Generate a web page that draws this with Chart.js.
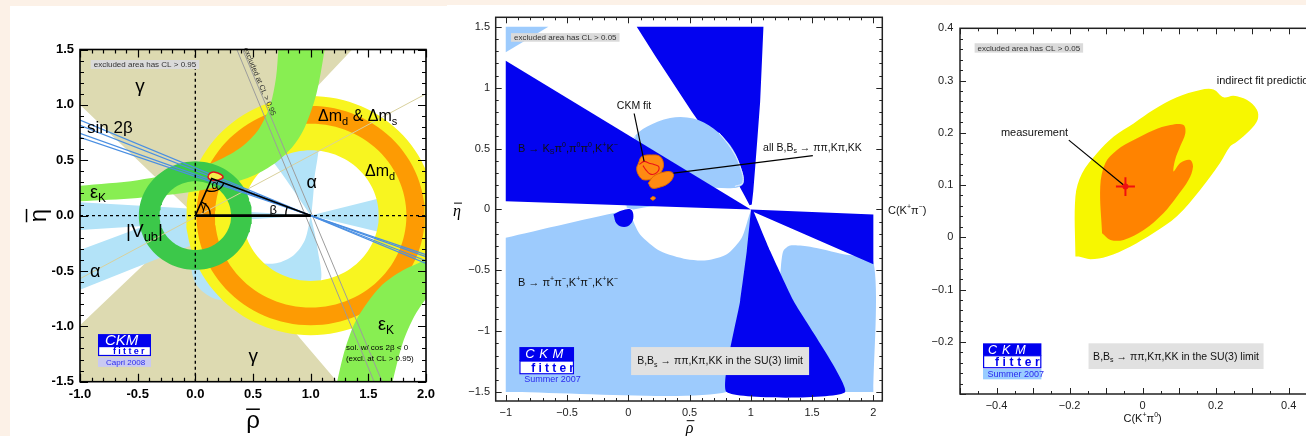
<!DOCTYPE html>
<html lang="en">
<head>
<meta charset="utf-8">
<title>CKM fits</title>
<script src="https://cdn.jsdelivr.net/npm/chart.js@4.4.1/dist/chart.umd.min.js"></script>
<style>
  html, body { margin: 0; padding: 0; }
  body { width: 1306px; height: 436px; overflow: hidden; position: relative; background: #fcf1e7; }
  .sheet { position: absolute; background: #fff; }
  canvas { position: absolute; }
</style>
</head>
<body>
<div class="sheet" style="left:10px;top:6px;width:440px;height:430px"></div>
<div class="sheet" style="left:447px;top:5px;width:859px;height:431px"></div>
<canvas id="fitA" width="440" height="430" style="left:10px;top:6px"></canvas>
<canvas id="fitB" width="440" height="431" style="left:447px;top:5px"></canvas>
<canvas id="fitC" width="463" height="431" style="left:887px;top:5px"></canvas>
<script>
// ============ Panel A: global fit in the (rho-bar, eta-bar) plane ============
const rhoTicksA = [-1.0, -0.5, 0.0, 0.5, 1.0, 1.5, 2.0];
const etaTicksA = [-1.5, -1.0, -0.5, 0.0, 0.5, 1.0, 1.5];
// gamma: excluded double cone (tan)
const gammaUpperA = [[0, 0], [1.36, 1.5], [-1, 1.5], [-1, 1.0], [0, 0]];
const gammaLowerA = [[0, 0], [-1, -0.99], [-1, -1.5], [1.23, -1.5], [0, 0]];
// alpha: allowed pieces (light blue)
const alphaLeftA = [[1, 0], [-1, 0.12], [-1, -0.13], [1, 0]];
const alphaRightA = [[1, 0], [2, 0.26], [2, -0.25], [1, 0]];
const alphaBandA = [[-1, -0.31], [-0.15, 0.02], [0.25, -0.15], [-1, -0.67]];
const alphaUpperA = [[1, 0], [0.85, 0.23], [0.7, 0.45], [0.5, 0.72], [1.04, 0.72], [1.03, 0.3], [1.01, 0.05], [1, 0]];
const alphaLowerA = [[1, 0], [0.95, -0.22], [0.85, -0.36], [0.7, -0.43], [0.5, -0.42], [0.3, -0.33], [0.1, -0.3],
  [-0.03, -0.45], [0.02, -0.64], [0.2, -0.76], [0.6, -0.76], [1.07, -0.62], [1.06, -0.3], [1, 0]];
// Delta m_d (yellow) and Delta m_d & Delta m_s (orange): rings around (1,0)
const dmCentreA = [1, 0];
const dmdBandA = [0.59, 1.08];
const dmsBandA = [0.83, 0.99];
// |Vub|: ring around the origin
const vubCentreA = [0, 0];
const vubBandA = [0.31, 0.49];
// epsilon_K hyperbola bands
const epsUpperA = [[-1, 0.27], [-0.5, 0.32], [0, 0.42], [0.2, 0.5], [0.4, 0.62], [0.55, 0.78], [0.65, 1.0], [0.7, 1.25], [0.72, 1.5], [0.73, 1.63],
  [1.14, 1.65], [1.12, 1.49], [1.05, 1.1], [0.95, 0.8], [0.85, 0.63], [0.7, 0.48], [0.5, 0.36], [0.3, 0.29], [0, 0.22], [-0.5, 0.16], [-1, 0.13]];
const epsLowerA = [[1.2, -1.68], [1.23, -1.5], [1.3, -1.2], [1.4, -0.933], [1.6, -0.646], [1.8, -0.494], [2.0, -0.4], [2.05, -0.38],
  [2.05, -0.7], [2.0, -0.75], [1.9, -0.906], [1.8, -1.145], [1.71, -1.5], [1.68, -1.67]];
// sin 2beta: eta-bar where each line through (1,0) meets rho-bar = -1
const sin2betaA = [0.862, 0.816, 0.742, 0.706];
const grayLinesA = [[[0.36, 1.5], [1.55, -1.5]], [[0.41, 1.5], [1.62, -1.5]]];
const beigeLineA = [[-1, -0.57], [2, 1.1]];
const apexA = [0.142, 0.336];
const apexContourA = [[0.11, 0.36], [0.13, 0.385], [0.17, 0.392], [0.22, 0.372], [0.24, 0.345], [0.2, 0.322], [0.15, 0.318], [0.115, 0.335], [0.11, 0.36]];

// ============ Panel B: B -> pi pi, K pi, KK in the SU(3) limit ============
const rhoTicksB = [-1, -0.5, 0, 0.5, 1, 1.5, 2];
const etaTicksB = [-1.5, -1, -0.5, 0, 0.5, 1, 1.5];
const lightCornerB = [[-1, 1.5], [-0.652, 1.5], [-1, 1.29]];
const lightLowLeftB = [[-1, -0.232], [-0.013, -0.008], [0.015, -0.042], [0.096, -0.205], [0.26, -0.341], [0.477, -0.409],
  [0.641, -0.417], [0.804, -0.368], [0.926, -0.232], [0.989, -0.042], [1.0, -0.02], [0.804, -1.5], [-1, -1.5]];
const lightLowRightB = [[2, -1.5], [2, -0.428], [1.756, -0.368], [1.484, -0.306], [1.321, -0.295], [1.266, -0.34],
  [1.245, -0.477], [1.226, -0.749], [1.212, -1.5]];
const lightDiskB = [[-0.013, 0.013], [-0.04, 0.176], [-0.026, 0.39], [0.042, 0.584], [0.151, 0.679], [0.341, 0.752],
  [0.532, 0.747], [0.695, 0.665], [0.831, 0.529], [0.913, 0.366], [0.94, 0.216], [0.858, 0.176], [0.532, 0.176], [0.369, 0.067], [0.042, 0.0]];
const diskEdgeLeftB = [[0.06, 0.6], [0.0, 0.48], [-0.035, 0.3], [-0.04, 0.15], [-0.02, 0.03], [0.02, -0.03]];
const diskEdgeRightB = [[0.74, 0.63], [0.84, 0.5], [0.91, 0.36], [0.935, 0.22], [0.87, 0.19]];
const darkUpLeftB = [[-1, 1.222], [1, 0], [-1, 0.067]];
const darkUpRightB = [[0.069, 1.5], [1.103, 1.5], [1.09, 1.2], [1.076, 0.882], [1.055, 0.6], [1.035, 0.338], [1.02, 0.15], [1.008, 0.04],
  [0.99, 0.035], [0.95, 0.11], [0.88, 0.24], [0.78, 0.41], [0.66, 0.6], [0.52, 0.8], [0.37, 1.03], [0.22, 1.26], [0.069, 1.5]];
const darkLowB = [[1.0, -0.01], [0.967, -0.341], [0.913, -0.749], [0.804, -1.5], [1.77, -1.5], [1.348, -0.749], [1.158, -0.341], [1.02, -0.01]];
const darkRightB = [[1.0, 0.0], [2.0, -0.042], [2.0, -0.45], [1.0, -0.01]];
const darkLoopB = [[-0.121, -0.042], [-0.094, -0.118], [-0.034, -0.145], [0.02, -0.118], [0.042, -0.055], [0.02, -0.001], [-0.053, -0.009], [-0.121, -0.042]];
const fitBlobUpB = [[0.083, 0.38], [0.11, 0.434], [0.192, 0.4475], [0.26, 0.434], [0.287, 0.366], [0.26, 0.298], [0.205, 0.257], [0.124, 0.244], [0.083, 0.284], [0.069, 0.339], [0.083, 0.38]];
const fitBlobLowB = [[0.164, 0.216], [0.205, 0.271], [0.287, 0.306], [0.355, 0.306], [0.368, 0.271], [0.328, 0.216], [0.26, 0.184], [0.192, 0.176], [0.164, 0.216]];
const fitBlobDotB = [[0.18, 0.09], [0.2, 0.106], [0.222, 0.094], [0.2, 0.076], [0.18, 0.09]];
const fitRedB = [[0.09, 0.37], [0.13, 0.395], [0.17, 0.38], [0.21, 0.37], [0.25, 0.35], [0.23, 0.3], [0.18, 0.29], [0.14, 0.33], [0.12, 0.36]];
const ckmLineB = [[0.048, 0.788], [0.129, 0.394]];
const allLineB = [[1.506, 0.442], [0.369, 0.298]];

// ============ Panel C: C(K+pi0) vs C(K+pi-) ============
const cTicksX = [-0.4, -0.2, 0, 0.2, 0.4];
const cTicksY = [-0.2, -0.1, 0, 0.1, 0.2, 0.3, 0.4];
const predYellowC = [[-0.184, -0.037], [-0.184, 0.078], [-0.166, 0.122], [-0.125, 0.161], [-0.079, 0.193], [-0.0245, 0.218],
  [0.03, 0.244], [0.094, 0.268], [0.158, 0.282], [0.194, 0.283], [0.222, 0.268], [0.249, 0.271], [0.285, 0.263],
  [0.313, 0.244], [0.315, 0.225], [0.294, 0.205], [0.258, 0.183], [0.24, 0.174], [0.212, 0.142], [0.158, 0.091],
  [0.094, 0.04], [0.03, 0.008], [-0.034, -0.018], [-0.097, -0.037], [-0.143, -0.042], [-0.175, -0.037], [-0.184, -0.037]];
const predOrangeC = [[-0.111, 0.0076], [-0.116, 0.097], [-0.102, 0.142], [-0.07, 0.167], [-0.0245, 0.186], [0.03, 0.205],
  [0.076, 0.215], [0.112, 0.215], [0.117, 0.199], [0.103, 0.174], [0.089, 0.148], [0.085, 0.126], [0.103, 0.142],
  [0.13, 0.148], [0.138, 0.135], [0.126, 0.11], [0.094, 0.078], [0.057, 0.046], [0.003, 0.014], [-0.052, -0.005],
  [-0.088, -0.005], [-0.111, 0.0076]];
const measuredC = [-0.047, 0.097];
const measLineC = [[-0.202, 0.186], [-0.052, 0.1]];

// ---------------------------------------------------------------------
const SANS = '"Liberation Sans", Arial, Helvetica, sans-serif';
const SERIF = '"Liberation Serif", "Times New Roman", serif';

const pts = a => a.map(p => ({ x: p[0], y: p[1] }));
function region(a, color, extra) {
  return Object.assign({ data: pts(a), showLine: true, fill: 'shape', backgroundColor: color, borderColor: color,
    borderWidth: 0, pointRadius: 0, tension: 0 }, extra || {});
}
function stroke(a, color, width, extra) {
  return Object.assign({ data: pts(a), showLine: true, fill: false, borderColor: color, borderWidth: width,
    pointRadius: 0, tension: 0 }, extra || {});
}
// closed annulus outline: outer circle one way, inner circle back the other way
function ring(c, band) {
  const out = [], n = 120;
  for (let i = 0; i <= n; i++) { const t = 2 * Math.PI * i / n; out.push([c[0] + band[1] * Math.cos(t), c[1] + band[1] * Math.sin(t)]); }
  for (let i = n; i >= 0; i--) { const t = 2 * Math.PI * i / n; out.push([c[0] + band[0] * Math.cos(t), c[1] + band[0] * Math.sin(t)]); }
  return out;
}

function axis(min, max, ticks, fmt, font, color, pad, fit) {
  return {
    type: 'linear', min, max,
    grid: { display: false, drawTicks: false }, border: { display: false },
    afterBuildTicks: s => { s.ticks = ticks.map(v => ({ value: v })); },
    ticks: { callback: v => fmt(v), font, color, padding: pad, autoSkip: false, maxRotation: 0, minRotation: 0 },
    afterFit: fit
  };
}

function rich(ctx, str, x, y, size, o) {
  o = o || {};
  const fam = o.family || SANS, wt = o.weight || '', st = o.style || '';
  const parts = []; const re = /([_^])\{([^}]*)\}/g; let last = 0, m;
  while ((m = re.exec(str))) {
    if (m.index > last) parts.push({ t: str.slice(last, m.index), k: '' });
    parts.push({ t: m[2], k: m[1] }); last = re.lastIndex;
  }
  if (last < str.length) parts.push({ t: str.slice(last), k: '' });
  const fontFor = k => `${st} ${wt} ${k ? Math.round(size * 0.68) : size}px ${fam}`;
  let w = 0;
  for (const p of parts) { ctx.font = fontFor(p.k); p.w = ctx.measureText(p.t).width; w += p.w; }
  let cx = o.align === 'center' ? x - w / 2 : o.align === 'right' ? x - w : x;
  ctx.fillStyle = o.color || '#000'; ctx.textBaseline = 'middle'; ctx.textAlign = 'left';
  for (const p of parts) {
    ctx.font = fontFor(p.k);
    const dy = p.k === '_' ? size * 0.3 : p.k === '^' ? -size * 0.33 : 0;
    ctx.fillText(p.t, cx, y + dy); cx += p.w;
  }
  return w;
}

function innerTicks(chart, o) {
  const { ctx } = chart, a = chart.chartArea, sx = chart.scales.x, sy = chart.scales.y;
  ctx.save(); ctx.strokeStyle = o.color; ctx.lineWidth = o.lw; ctx.beginPath();
  const run = (spec, fn) => {
    const n = Math.round((spec[1] - spec[0]) / spec[2]);
    for (let i = 0; i <= n; i++) { const v = spec[0] + i * spec[2]; const r = v / spec[3]; fn(v, Math.abs(r - Math.round(r)) < 1e-6); }
  };
  run(o.x, (v, big) => {
    const p = Math.round(sx.getPixelForValue(v)) + 0.5, L = big ? o.major : o.minor;
    ctx.moveTo(p, a.bottom); ctx.lineTo(p, a.bottom - L);
    ctx.moveTo(p, a.top); ctx.lineTo(p, a.top + L);
  });
  run(o.y, (v, big) => {
    const p = Math.round(sy.getPixelForValue(v)) + 0.5, L = big ? o.major : o.minor;
    ctx.moveTo(a.left, p); ctx.lineTo(a.left + L, p);
    ctx.moveTo(a.right, p); ctx.lineTo(a.right - L, p);
  });
  ctx.stroke();
  ctx.strokeStyle = o.frameColor || o.color; ctx.lineWidth = o.frame;
  ctx.strokeRect(a.left, a.top, a.right - a.left, a.bottom - a.top);
  ctx.restore();
}

function spaced(ctx, s, x, y, gap) { for (const ch of s) { ctx.fillText(ch, x, y); x += ctx.measureText(ch).width + gap; } }

function ckmLogo(ctx, x, y, L) {
  ctx.save();
  ctx.textBaseline = 'middle'; ctx.textAlign = 'left';
  ctx.fillStyle = '#0000ee'; ctx.fillRect(x, y, L.w, L.h1);
  ctx.fillStyle = '#fff'; ctx.font = `italic ${L.ckmSize}px ${SANS}`;
  spaced(ctx, 'CKM', x + L.ckmX, y + L.h1 / 2 + 0.5, L.ckmGap);
  ctx.fillStyle = '#fff'; ctx.fillRect(x, y + L.h1, L.w, L.h2);
  ctx.strokeStyle = '#0000ee'; ctx.lineWidth = 1.2;
  ctx.strokeRect(x + 0.6, y + L.h1, L.w - 1.2, L.h2 - 0.6);
  ctx.fillStyle = '#0000ee'; ctx.font = `bold ${L.fitSize}px ${SANS}`;
  spaced(ctx, 'fitter', x + L.fitX, y + L.h1 + L.h2 / 2 + 0.5, L.fitGap);
  const fy = y + L.h1 + L.h2 + L.footGap;
  if (L.footBg) { ctx.fillStyle = L.footBg; ctx.fillRect(x, fy, L.w, L.footH); }
  ctx.fillStyle = '#2a2aee'; ctx.font = `${L.footSize}px ${SANS}`;
  ctx.fillText(L.foot, x + L.footX, fy + L.footH / 2 + 0.5);
  ctx.restore();
}

function noteBox(ctx, x, y, text, size, h) {
  ctx.save();
  ctx.font = `${size}px ${SANS}`;
  const w = ctx.measureText(text).width + 6;
  ctx.fillStyle = '#dadada'; ctx.fillRect(x, y, w, h);
  ctx.fillStyle = '#333'; ctx.textBaseline = 'middle'; ctx.textAlign = 'left';
  ctx.fillText(text, x + 3, y + h / 2 + 0.5);
  ctx.restore();
}

function limitBox(ctx, x, y, w, h, text, size) {
  ctx.save();
  ctx.fillStyle = '#e1e1e1'; ctx.fillRect(x, y, w, h);
  rich(ctx, text, x + w / 2, y + h / 2 + 0.5, size, { align: 'center', color: '#111' });
  ctx.restore();
}

function barred(ctx, ch, x, y, size, font, rot, barDx) {
  ctx.save();
  ctx.translate(x, y); ctx.rotate(rot || 0);
  ctx.font = `${font.replace('SIZE', size)}`; ctx.fillStyle = '#000'; ctx.textAlign = 'center'; ctx.textBaseline = 'middle';
  ctx.fillText(ch, 0, 0);
  const w = ctx.measureText(ch).width;
  ctx.strokeStyle = '#000'; ctx.lineWidth = Math.max(1, size / 16);
  ctx.beginPath(); ctx.moveTo(-w / 2 + (barDx || 0), -size * 0.52); ctx.lineTo(w / 2 + (barDx || 0), -size * 0.52); ctx.stroke();
  ctx.restore();
}

function buildChart(id, layers, opts, deco) {
  const cv = document.getElementById(id);
  return new Chart(cv.getContext('2d'), {
    type: 'scatter',
    data: { datasets: layers.slice().reverse() },   // first layer ends up at the bottom
    options: Object.assign({
      responsive: false, animation: false, events: [],
      plugins: { legend: { display: false }, tooltip: { enabled: false } }
    }, opts),
    plugins: [{ id: 'deco_' + id, afterDraw: deco }]
  });
}

// ------------------------------ Panel A ------------------------------
const TAN = '#dddab1', LBLUE = '#b3e3f8', YEL = '#f8f520', ORG = '#fd9b03', LGRN = '#88ee52', DGRN = '#3cc84a';
const fmtA = v => v.toFixed(1);
const fontA = { family: SANS, size: 13, weight: 'bold' };

const layersA = [
  region(gammaUpperA, TAN), region(gammaLowerA, TAN),
  region(alphaLeftA, LBLUE), region(alphaRightA, LBLUE), region(alphaBandA, LBLUE),
  region(alphaUpperA, LBLUE, { tension: 0.3 }), region(alphaLowerA, LBLUE, { tension: 0.3 }),
  region(ring(dmCentreA, dmdBandA), YEL), region(ring(dmCentreA, dmsBandA), ORG),
  region(epsUpperA, LGRN, { tension: 0.3 }), region(epsLowerA, LGRN, { tension: 0.3 }),
  region(ring(vubCentreA, vubBandA), DGRN),
  stroke(beigeLineA, '#d8d09c', 1),
  ...grayLinesA.map(l => stroke(l, '#9c9c9c', 1)),
  ...sin2betaA.map(v => stroke([[-1, v], [2, -v / 2]], '#4a8fe2', 1.2)),
  stroke([[-1, 0], [2, 0]], '#000', 1.4, { borderDash: [3, 3] }),
  stroke([[0, -1.5], [0, 1.5]], '#000', 1.4, { borderDash: [3, 3] }),
  region(apexContourA, '#f5ee48', { borderColor: '#e0141a', borderWidth: 1.5, tension: 0.4 }),
  stroke([[0, 0], apexA, [1, 0]], '#000', 1.6),
  stroke([[0, 0], [1, 0]], '#000', 2.6)
];

const labelsA = [
  { t: 'γ', x: -0.48, y: 1.16, s: 19, al: 'center' },
  { t: 'γ', x: 0.503, y: -1.278, s: 19, al: 'center' },
  { t: 'sin 2β', x: -0.939, y: 0.79, s: 17 },
  { t: 'ε_{K}', x: -0.913, y: 0.203, s: 18 },
  { t: '|V_{ub}|', x: -0.601, y: -0.146, s: 19 },
  { t: 'α', x: -0.913, y: -0.508, s: 18 },
  { t: 'α', x: 1.009, y: 0.291, s: 18, al: 'center' },
  { t: 'Δm_{d} & Δm_{s}', x: 1.064, y: 0.893, s: 16 },
  { t: 'Δm_{d}', x: 1.471, y: 0.396, s: 16 },
  { t: 'ε_{K}', x: 1.584, y: -0.989, s: 18 },
  { t: 'α', x: 0.171, y: 0.266, s: 12, al: 'center' },
  { t: 'γ', x: 0.071, y: 0.077, s: 12, al: 'center' },
  { t: 'β', x: 0.676, y: 0.05, s: 13, al: 'center' },
  { t: 'sol. w/ cos 2β < 0', x: 1.306, y: -1.197, s: 8 },
  { t: '(excl. at CL > 0.95)', x: 1.306, y: -1.296, s: 8 }
];

buildChart('fitA', layersA, {
  layout: { padding: { left: 0, right: 24, top: 43.5, bottom: 0 }, autoPadding: false },
  scales: {
    x: axis(-1, 2, rhoTicksA, fmtA, fontA, '#000', 4.8, s => { s.height = 54.3; }),
    y: axis(-1.5, 1.5, etaTicksA, fmtA, fontA, '#000', 6, s => { s.width = 70; })
  }
}, chart => {
  const ctx = chart.ctx, sx = chart.scales.x, sy = chart.scales.y, a = chart.chartArea;
  const P = (x, y) => [sx.getPixelForValue(x), sy.getPixelForValue(y)];
  // angle arcs of the unitarity triangle
  const O = P(0, 0), A = P(apexA[0], apexA[1]), B = P(1, 0);
  const ang = (p, q) => Math.atan2(q[1] - p[1], q[0] - p[0]);
  ctx.save(); ctx.strokeStyle = '#000'; ctx.lineWidth = 1.3;
  ctx.beginPath(); ctx.arc(O[0], O[1], 15, ang(O, A), 0); ctx.stroke();
  ctx.beginPath(); ctx.arc(B[0], B[1], 25, Math.PI, ang(B, A) + 2 * Math.PI); ctx.stroke();
  ctx.beginPath(); ctx.arc(A[0], A[1], 13, ang(A, B), ang(A, O)); ctx.stroke();
  ctx.restore();
  for (const l of labelsA) { const p = P(l.x, l.y); rich(ctx, l.t, p[0], p[1], l.s, { align: l.al }); }
  // rotated note along the grey lines
  const g1 = P(grayLinesA[1][0][0], grayLinesA[1][0][1]), g2 = P(grayLinesA[1][1][0], grayLinesA[1][1][1]);
  const gp = P(0.555, 1.21);
  ctx.save(); ctx.translate(gp[0], gp[1]); ctx.rotate(Math.atan2(g2[1] - g1[1], g2[0] - g1[0]));
  ctx.font = `7.5px ${SANS}`; ctx.fillStyle = '#333'; ctx.textAlign = 'center'; ctx.textBaseline = 'middle';
  ctx.fillText('excluded at CL > 0.95', 0, 0); ctx.restore();
  const nb = P(-0.907, 1.405); noteBox(ctx, nb[0], nb[1], 'excluded area has CL > 0.95', 8, 9);
  const lg = P(-0.844, -1.07);
  ckmLogo(ctx, lg[0], lg[1], { w: 53, h1: 12.5, h2: 9.5, ckmSize: 15, ckmX: 7, ckmGap: 0, fitSize: 9, fitX: 15, fitGap: 2.3,
    footGap: 1.5, footH: 9.3, footBg: '#c9c9f2', foot: 'Capri 2008', footSize: 8, footX: 8 });
  innerTicks(chart, { x: [-1, 2, 0.1, 0.5], y: [-1.5, 1.5, 0.1, 0.5], minor: 4, major: 8, color: '#000', lw: 1.2, frame: 1.6 });
  // axis titles
  barred(ctx, 'ρ', sx.getPixelForValue(0.5), a.bottom + 40, 24, `SIZEpx ${SANS}`, 0, 0);
  barred(ctx, 'η', 29, sy.getPixelForValue(0), 24, `SIZEpx ${SANS}`, -Math.PI / 2, 0);
});

// ------------------------------ Panel B ------------------------------
const DBLUE = '#0303f0', LB2 = '#9dcbfd', ORGB = '#ff8a12';
const fmtB = v => (v < 0 ? '\u2212' + Math.abs(v) : String(v));
const fontB = { family: SANS, size: 11 };

const layersB = [
  region(lightCornerB, LB2), region(lightLowLeftB, LB2, { tension: 0.25 }), region(lightLowRightB, LB2, { tension: 0.25 }),
  region(darkUpRightB, DBLUE),
  region(lightDiskB, LB2, { tension: 0.35 }),
  stroke(diskEdgeLeftB, '#e8f2ff', 1, { tension: 0.4 }), stroke(diskEdgeRightB, '#e8f2ff', 1, { tension: 0.4 }),
  region(darkUpLeftB, DBLUE), region(darkLowB, DBLUE, { tension: 0.15 }), region(darkRightB, DBLUE), region(darkLoopB, DBLUE, { tension: 0.4 }),
  region(fitBlobUpB, ORGB, { borderColor: '#e06a00', borderWidth: 1, tension: 0.4 }),
  region(fitBlobLowB, ORGB, { borderColor: '#e06a00', borderWidth: 1, tension: 0.4 }),
  region(fitBlobDotB, ORGB, { borderColor: '#e06a00', borderWidth: 1, tension: 0.4 }),
  stroke(fitRedB, '#e8101a', 1.1, { tension: 0.4 }),
  stroke(ckmLineB, '#000', 1.2), stroke(allLineB, '#000', 1.2)
];

const labelsB = [
  { t: 'CKM fit', x: 0.047, y: 0.849, s: 10.5, al: 'center' },
  { t: 'all B,B_{s} → ππ,Kπ,KK', x: 1.10, y: 0.502, s: 10.5 },
  { t: 'B → K_{S}π^{0},π^{0}π^{0},K^{+}K^{−}', x: -0.9, y: 0.497, s: 11 },
  { t: 'B → π^{+}π^{−},K^{+}π^{−},K^{+}K^{−}', x: -0.9, y: -0.6, s: 11 }
];

buildChart('fitB', layersB, {
  layout: { padding: { left: 0, right: 4.7, top: 9.7, bottom: 0 }, autoPadding: false },
  scales: {
    x: axis(-1.082, 2.073, rhoTicksB, fmtB, fontB, '#222', 5.7, s => { s.height = 35; }),
    y: axis(-1.573, 1.578, etaTicksB, fmtB, fontB, '#222', 5.7, s => { s.width = 48.7; })
  }
}, chart => {
  const ctx = chart.ctx, sx = chart.scales.x, sy = chart.scales.y, a = chart.chartArea;
  const P = (x, y) => [sx.getPixelForValue(x), sy.getPixelForValue(y)];
  for (const l of labelsB) { const p = P(l.x, l.y); rich(ctx, l.t, p[0], p[1], l.s, { align: l.al, color: '#111' }); }
  const nb = P(-0.957, 1.448); noteBox(ctx, nb[0], nb[1], 'excluded area has CL > 0.05', 8, 8.6);
  const lb = P(0.023, -1.13); limitBox(ctx, lb[0], lb[1], 178, 28, 'B,B_{s} → ππ,Kπ,KK in the SU(3) limit', 10.5);
  const lg = P(-0.889, -1.13);
  ckmLogo(ctx, lg[0], lg[1], { w: 54.7, h1: 14, h2: 13.3, ckmSize: 13, ckmX: 6, ckmGap: 4.5, fitSize: 12, fitX: 12, fitGap: 3.2,
    footGap: 0, footH: 10, footBg: null, foot: 'Summer 2007', footSize: 9, footX: 5 });
  innerTicks(chart, { x: [-1, 2, 0.1, 0.5], y: [-1.5, 1.5, 0.1, 0.5], minor: 3, major: 6, color: '#222', lw: 1, frame: 1.5 });
  barred(ctx, 'ρ', sx.getPixelForValue(0.5), a.bottom + 28, 16, `italic SIZEpx ${SERIF}`, 0, 1);
  barred(ctx, 'η', 10, sy.getPixelForValue(0) + 2, 16, `italic SIZEpx ${SERIF}`, 0, 1);
});

// ------------------------------ Panel C ------------------------------
const fmtC = v => (v === 0 ? '0' : (v < 0 ? '\u2212' : '') + Math.abs(v).toFixed(1));
const layersC = [
  region(predYellowC, '#f7f700', { tension: 0.35 }),
  region(predOrangeC, '#ff8300', { tension: 0.35 }),
  stroke(measLineC, '#000', 1.2),
  stroke([[measuredC[0] - 0.026, measuredC[1]], [measuredC[0] + 0.026, measuredC[1]]], '#f01010', 2),
  stroke([[measuredC[0], measuredC[1] - 0.018], [measuredC[0], measuredC[1] + 0.018]], '#f01010', 2),
  { data: pts([measuredC]), showLine: false, pointRadius: 3, backgroundColor: '#f01010', borderColor: '#f01010', borderWidth: 0 }
];
const labelsC = [
  { t: 'measurement', x: -0.296, y: 0.199, s: 11, al: 'center' },
  { t: 'indirect fit prediction', x: 0.203, y: 0.299, s: 11 }
];

buildChart('fitC', layersC, {
  layout: { padding: { left: 0, right: 24.8, top: 23.3, bottom: 0 }, autoPadding: false },
  scales: {
    x: axis(-0.5, 0.5, cTicksX, fmtC, fontB, '#222', 5.1, s => { s.height = 42; }),
    y: axis(-0.3, 0.4, cTicksY, fmtC, fontB, '#222', 6.7, s => { s.width = 73; })
  }
}, chart => {
  const ctx = chart.ctx, sx = chart.scales.x, sy = chart.scales.y, a = chart.chartArea;
  const P = (x, y) => [sx.getPixelForValue(x), sy.getPixelForValue(y)];
  for (const l of labelsC) { const p = P(l.x, l.y); rich(ctx, l.t, p[0], p[1], l.s, { align: l.al, color: '#111' }); }
  const nb = P(-0.46, 0.3714); noteBox(ctx, nb[0], nb[1], 'excluded area has CL > 0.05', 8, 9.4);
  const lb = P(-0.148, -0.203); limitBox(ctx, lb[0], lb[1], 175, 25.7, 'B,B_{s} → ππ,Kπ,KK in the SU(3) limit', 10.5);
  const lg = P(-0.437, -0.203);
  ckmLogo(ctx, lg[0], lg[1], { w: 58.4, h1: 12.4, h2: 12.6, ckmSize: 12.5, ckmX: 5, ckmGap: 5, fitSize: 12, fitX: 12, fitGap: 3.6,
    footGap: 0.7, footH: 10.3, footBg: '#99ccff', foot: 'Summer 2007', footSize: 9, footX: 4.5 });
  innerTicks(chart, { x: [-0.5, 0.5, 0.05, 0.1], y: [-0.3, 0.4, 0.02, 0.1], minor: 3, major: 6, color: '#222', lw: 1, frame: 1.5 });
  rich(ctx, 'C(K^{+}π^{0})', sx.getPixelForValue(0), a.bottom + 25, 11, { align: 'center', color: '#111' });
  rich(ctx, 'C(K^{+}π^{−})', 1, sy.getPixelForValue(0.05), 11, { color: '#111' });
});
</script>
</body>
</html>
